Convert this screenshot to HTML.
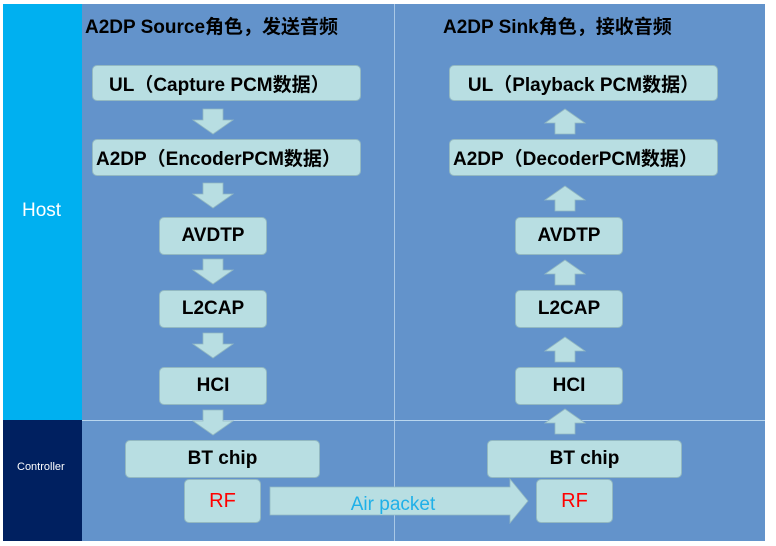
<!DOCTYPE html>
<html><head><meta charset="utf-8"><style>
body{margin:0;width:776px;height:546px;background:#fff;position:relative;overflow:hidden;font-family:"Liberation Sans","Noto Sans CJK SC",sans-serif}
.a{position:absolute}
.box{position:absolute;background:#b8dee2;border:1px solid #93b9c2;border-radius:5px;box-sizing:border-box;display:flex;align-items:center;justify-content:center;font-weight:bold;font-size:19px;color:#000;white-space:nowrap}
.t{position:absolute;font-weight:bold;font-size:19px;color:#000;white-space:nowrap}
</style></head><body>
<div class="a" style="left:82px;top:4px;width:683px;height:537px;background:#6393cb"></div>
<div class="a" style="left:3px;top:4px;width:79px;height:416px;background:#00b0f0"></div>
<div class="a" style="left:3px;top:420px;width:79px;height:121px;background:#002060"></div>
<div class="a" style="left:22px;top:200px;color:#fff;font-size:19px">Host</div>
<div class="a" style="left:17px;top:461px;color:#fff;font-size:11px">Controller</div>
<div class="a" style="left:394px;top:4px;width:1px;height:537px;background:#a9c8e6"></div>
<div class="a" style="left:82px;top:420px;width:683px;height:1px;background:#b9d6ee"></div>
<div class="t" style="left:85px;top:12px">A2DP Source角色，发送音频</div>
<div class="t" style="left:443px;top:12px">A2DP Sink角色，接收音频</div>

<div class="box" style="left:92px;top:65px;width:269px;height:36px;justify-content:flex-start;padding-left:16px">UL（Capture PCM数据）</div>
<div class="box" style="left:92px;top:139px;width:269px;height:37px;justify-content:flex-start;padding-left:3px">A2DP（EncoderPCM数据）</div>
<div class="box" style="left:159px;top:217px;width:108px;height:38px">AVDTP</div>
<div class="box" style="left:159px;top:290px;width:108px;height:38px">L2CAP</div>
<div class="box" style="left:159px;top:367px;width:108px;height:38px">HCI</div>
<div class="box" style="left:125px;top:440px;width:195px;height:38px">BT chip</div>
<div class="box" style="left:184px;top:479px;width:77px;height:44px;color:#f00;font-weight:normal;font-size:20px">RF</div>

<div class="box" style="left:449px;top:65px;width:269px;height:36px">UL（Playback PCM数据）</div>
<div class="box" style="left:449px;top:139px;width:269px;height:37px;justify-content:flex-start;padding-left:3px">A2DP（DecoderPCM数据）</div>
<div class="box" style="left:515px;top:217px;width:108px;height:38px">AVDTP</div>
<div class="box" style="left:515px;top:290px;width:108px;height:38px">L2CAP</div>
<div class="box" style="left:515px;top:367px;width:108px;height:38px">HCI</div>
<div class="box" style="left:487px;top:440px;width:195px;height:38px">BT chip</div>
<div class="box" style="left:536px;top:479px;width:77px;height:44px;color:#f00;font-weight:normal;font-size:20px">RF</div>

<svg class="a" style="left:0;top:0" width="776" height="546">
<g fill="#b8dee2" stroke="#93b9c2" stroke-width="0.8">
<path d="M203 109h20v11h10l-20 14l-20-14h10z"/>
<path d="M203 183h20v11h10l-20 14l-20-14h10z"/>
<path d="M203 259h20v11h10l-20 14l-20-14h10z"/>
<path d="M203 333h20v11h10l-20 14l-20-14h10z"/>
<path d="M203 410h20v11h10l-20 14l-20-14h10z"/>
<path d="M555 134h20v-11h10l-20-14l-20 14h10z"/>
<path d="M555 211h20v-11h10l-20-14l-20 14h10z"/>
<path d="M555 285h20v-11h10l-20-14l-20 14h10z"/>
<path d="M555 362h20v-11h10l-20-14l-20 14h10z"/>
<path d="M555 434h20v-11h10l-20-14l-20 14h10z"/>
<path d="M270 487h240v-8l18 22l-18 22v-8h-240z"/>
</g>
<text x="393" y="510" text-anchor="middle" font-family="Liberation Sans" font-size="19" fill="#1fb0e8">Air packet</text>
</svg>
</body></html>
